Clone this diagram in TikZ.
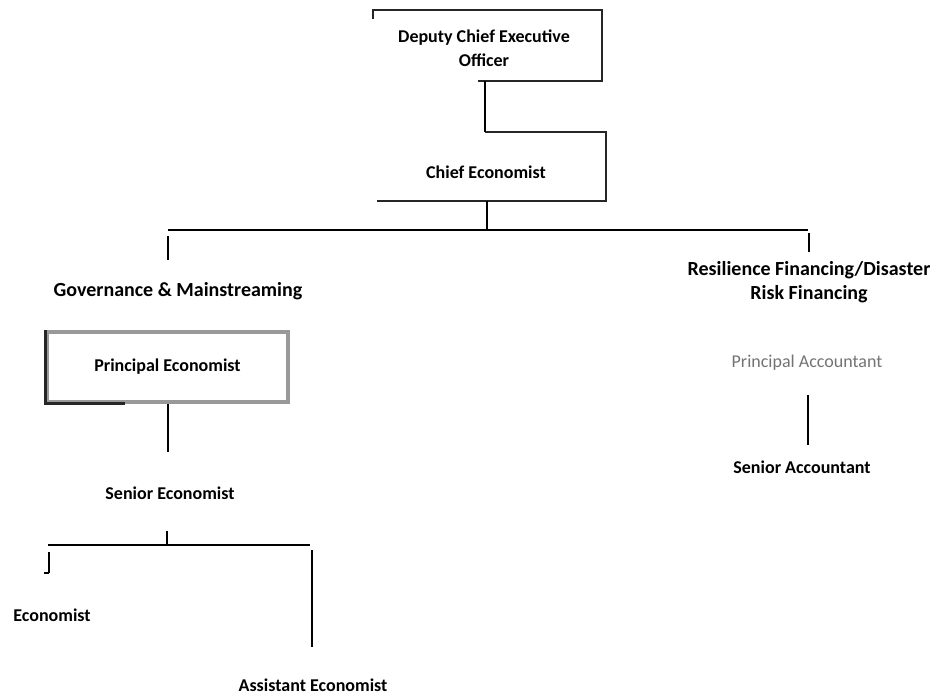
\documentclass[tikz,border=0pt]{standalone}
\usepackage{fontspec}
\setmainfont{Carlito}
\begin{document}
\begin{tikzpicture}[x=0.75pt,y=-0.75pt,
  lbl/.style={font=\bfseries\fontsize{13.5}{16}\selectfont, inner sep=0pt, align=center},
  hdr/.style={font=\bfseries\fontsize{15}{18}\selectfont, inner sep=0pt, align=center},
  ln/.style={line width=1.1pt, black},
  boxln/.style={line width=1.4pt, black!85}]
\useasboundingbox (0,0) rectangle (939,698);
% box frames (partially visible in the scan)
\coordinate (d1) at (373,10); \coordinate (d2) at (602,10);
\coordinate (d3) at (602,81); \coordinate (d4) at (478,81);
\draw[boxln] (373,19) -- (d1) -- (d2) -- (d3) -- (d4);
\coordinate (c1) at (485,132); \coordinate (c2) at (606,132);
\coordinate (c3) at (606,201); \coordinate (c4) at (377,201);
\draw[boxln] (c1) -- (c2) -- (c3) -- (c4);
% nodes
\node[lbl] (dceo) at (484,48) {Deputy Chief Executive\\[2pt]Officer};
\node[lbl] (ce) at (486,172) {Chief Economist};
\node[hdr] (gov) at (178,291) {Governance \& Mainstreaming};
\node[hdr] (res) at (809,282) {Resilience Financing/Disaster\\Risk Financing};
\node[draw=black!40, line width=2.8pt, minimum width=180.75pt, minimum height=52.5pt, inner sep=0pt,
      font=\bfseries\fontsize{13.5}{16}\selectfont] (pe) at (167.5,367) {Principal Economist};
\coordinate (peDark) at (125,402);
\draw[line width=2.2pt, black!85] (pe.north west) -- (pe.south west) -- (pe.south west -| peDark);
\node[lbl, font=\fontsize{13.5}{16}\selectfont, text=black!55] (pa) at (807,363) {Principal Accountant};
\node[lbl] (sa) at (802,467) {Senior Accountant};
\node[lbl] (se) at (170,493) {Senior Economist};
\node[lbl] (eco) at (52,615) {Economist};
\node[lbl] (ae) at (313,685) {Assistant Economist};
% connectors
\draw[ln] (d4 -| c1) -- (c1);
\coordinate (bus) at (487,230);
\draw[ln] (c4 -| bus) -- (bus);
\coordinate (busL) at (168,230); \coordinate (busR) at (808,230);
\draw[ln] (busL) -- (busR);
\coordinate (govT) at (168,260);
\draw[ln] (168,236) -- (govT);
\coordinate (resT) at (809,252);
\draw[ln] (809,233) -- (resT);
\coordinate (pbT) at (168,452);
\draw[ln] (pe.south -| pbT) -- (pbT);
\coordinate (paB) at (808,395); \coordinate (saT) at (808,445);
\draw[ln] (paB) -- (saT);
\coordinate (sb) at (167,545);
\draw[ln] (167,531) -- (sb);
\coordinate (sbL) at (48,545); \coordinate (sbR) at (310,545);
\draw[ln] (sbL) -- (sbR);
\coordinate (ecoT) at (49,573);
\draw[ln] (49,552) -- (ecoT);
\draw[line width=1pt] (44,573) -- (ecoT);
\coordinate (aeT) at (312,647);
\draw[ln] (312,550) -- (aeT);
\end{tikzpicture}
\end{document}
